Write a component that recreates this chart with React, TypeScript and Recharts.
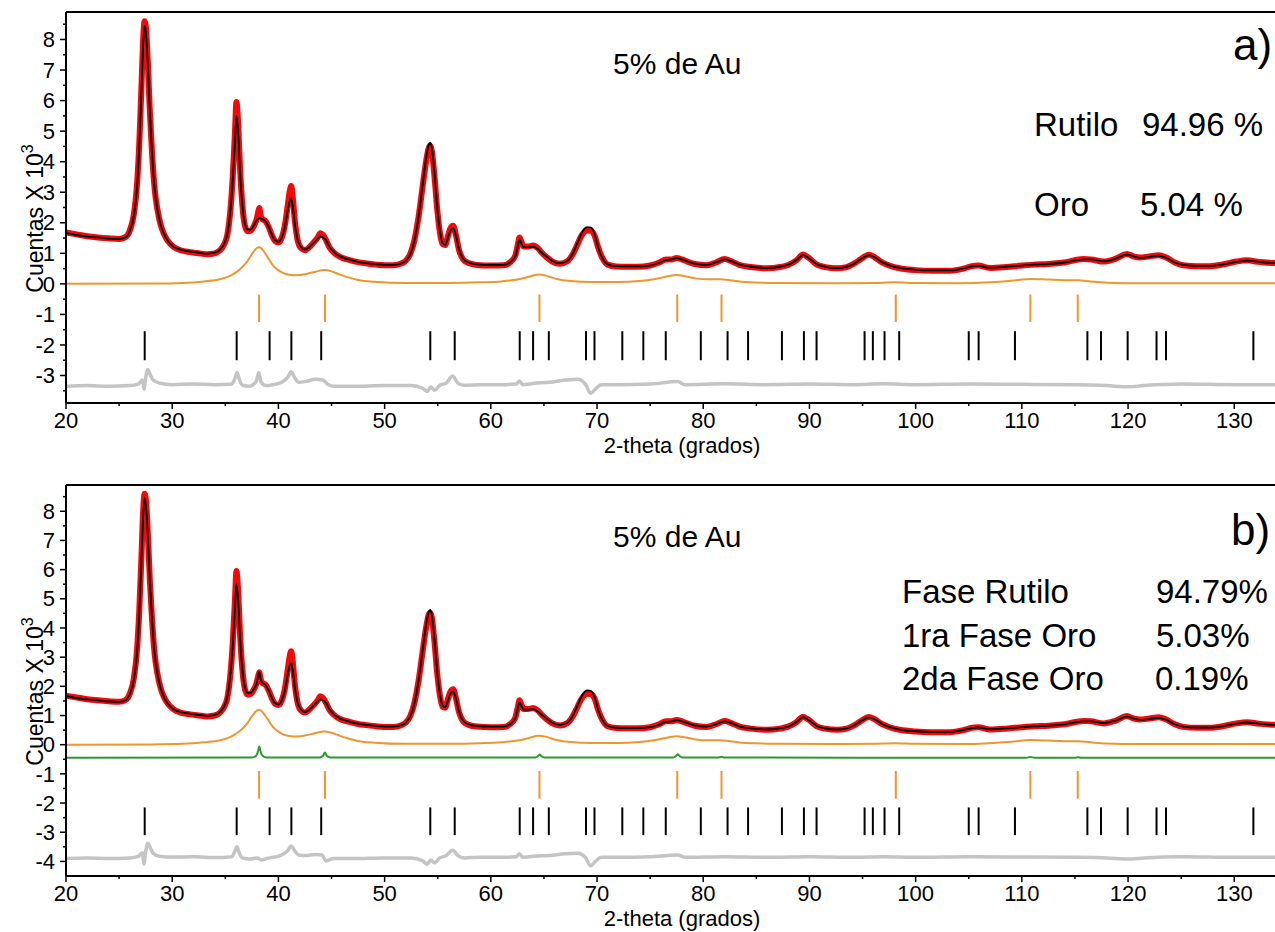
import { LineChart, Line, XAxis, YAxis, ReferenceLine } from "recharts"

type Pt = [number, number]

const FONT = '"Liberation Sans", Arial, Helvetica, sans-serif'

// axis ticks (majors get a label, halves / fives are minor marks)
const xTicks = [20, 25, 30, 35, 40, 45, 50, 55, 60, 65, 70, 75, 80, 85, 90, 95, 100, 105, 110, 115, 120, 125, 130, 135]
const yTicksA = [-3.5, -3, -2.5, -2, -1.5, -1, -0.5, 0, 0.5, 1, 1.5, 2, 2.5, 3, 3.5, 4, 4.5, 5, 5.5, 6, 6.5, 7, 7.5, 8, 8.5]
const yTicksB = [-4, -3.5, -3, -2.5, -2, -1.5, -1, -0.5, 0, 0.5, 1, 1.5, 2, 2.5, 3, 3.5, 4, 4.5, 5, 5.5, 6, 6.5, 7, 7.5, 8, 8.5]

// observed pattern (counts x 10^3), same sample in both panels
const observed: Pt[] = [
  [20, 1.68], [21, 1.62], [22, 1.56], [23, 1.52], [24, 1.49], [25, 1.47], [25.6, 1.53], [26.0, 1.74], [26.4, 2.3],
  [26.7, 3.3], [26.9, 4.6], [27.1, 6.4], [27.25, 7.9], [27.4, 8.6], [27.55, 8.3], [27.7, 7.3], [27.9, 5.6], [28.1, 4.3],
  [28.35, 3.1], [28.6, 2.45], [28.9, 1.95], [29.2, 1.65], [29.6, 1.4], [30.1, 1.22], [30.8, 1.1], [31.7, 1.04], [32.5, 1.0],
  [33.3, 0.97], [34.0, 1.0], [34.5, 1.1], [34.9, 1.3], [35.2, 1.62], [35.45, 2.3], [35.7, 3.5], [35.9, 4.9], [36.05, 5.95],
  [36.2, 5.3], [36.4, 3.7], [36.6, 2.6], [36.85, 1.9], [37.1, 1.72], [37.4, 1.74], [37.7, 1.9], [37.95, 2.12], [38.1, 2.35],
  [38.2, 2.48], [38.32, 2.25], [38.5, 2.12], [38.8, 2.05], [39.1, 1.85], [39.4, 1.58], [39.7, 1.4], [40.0, 1.36], [40.3, 1.5],
  [40.6, 1.9], [40.85, 2.5], [41.05, 3.0], [41.2, 3.2], [41.35, 2.85], [41.55, 2.05], [41.8, 1.45], [42.1, 1.18], [42.5, 1.1],
  [42.9, 1.2], [43.3, 1.35], [43.7, 1.52], [43.95, 1.66], [44.2, 1.6], [44.5, 1.42], [44.8, 1.2], [45.2, 1.03], [45.8, 0.88],
  [46.7, 0.78], [47.5, 0.71], [48.3, 0.67], [49.2, 0.63], [50.0, 0.61], [50.8, 0.61], [51.5, 0.66], [52.0, 0.76], [52.4, 0.97],
  [52.8, 1.42], [53.2, 2.2], [53.6, 3.25], [53.9, 4.0], [54.15, 4.45], [54.3, 4.52], [54.45, 4.35], [54.7, 3.5], [54.95, 2.45],
  [55.2, 1.7], [55.45, 1.3], [55.7, 1.27], [55.95, 1.55], [56.2, 1.82], [56.45, 1.9], [56.7, 1.62], [57.0, 1.12], [57.4, 0.8],
  [57.9, 0.68], [58.7, 0.62], [60.0, 0.6], [61.2, 0.61], [61.8, 0.7], [62.3, 0.92], [62.55, 1.3], [62.7, 1.52], [62.85, 1.4],
  [63.1, 1.22], [63.5, 1.22], [64.0, 1.26], [64.4, 1.18], [64.8, 1.02], [65.3, 0.86], [65.8, 0.73], [66.5, 0.66], [67.2, 0.74],
  [67.7, 0.96], [68.1, 1.25], [68.5, 1.55], [68.8, 1.7], [69.1, 1.75], [69.45, 1.74], [69.8, 1.55], [70.1, 1.2], [70.5, 0.85],
  [71.0, 0.63], [71.8, 0.57], [72.8, 0.56], [73.8, 0.56], [75.0, 0.6], [75.8, 0.69], [76.5, 0.8], [77.0, 0.8], [77.5, 0.85],
  [78.0, 0.8], [78.5, 0.73], [79.2, 0.65], [80.3, 0.61], [81.2, 0.7], [82.0, 0.81], [82.6, 0.75], [83.4, 0.62], [84.5, 0.55],
  [86.0, 0.51], [87.2, 0.55], [88.0, 0.62], [88.8, 0.78], [89.4, 0.96], [89.9, 0.86], [90.7, 0.63], [91.5, 0.55], [92.6, 0.51],
  [93.5, 0.55], [94.2, 0.66], [94.8, 0.8], [95.6, 0.95], [96.1, 0.88], [96.8, 0.71], [97.6, 0.59], [98.5, 0.51], [100.0, 0.45],
  [101.5, 0.43], [103.2, 0.43], [104.5, 0.5], [105.3, 0.58], [105.9, 0.6], [107.0, 0.52], [108.5, 0.55], [110.0, 0.6],
  [111.1, 0.63], [112.5, 0.65], [114.0, 0.7], [115.8, 0.81], [116.5, 0.8], [117.7, 0.73], [118.8, 0.82], [119.9, 0.98],
  [120.5, 0.9], [121.1, 0.86], [122.0, 0.9], [122.9, 0.94], [123.6, 0.86], [124.4, 0.7], [125.2, 0.61], [126.5, 0.58],
  [127.7, 0.58], [129.0, 0.64], [130.2, 0.73], [131.2, 0.77], [132.3, 0.72], [133.8, 0.68], [135, 0.7], [136, 0.72],
]

// calculated pattern, panel a)
const calcA: Pt[] = [
  [20, 1.66], [21, 1.6], [22, 1.55], [23, 1.52], [24, 1.48], [25, 1.47], [25.6, 1.52], [26.0, 1.72], [26.4, 2.25],
  [26.7, 3.2], [26.9, 4.5], [27.1, 6.3], [27.25, 7.7], [27.4, 8.45], [27.55, 8.1], [27.7, 7.2], [27.9, 5.6], [28.1, 4.3],
  [28.35, 3.1], [28.6, 2.45], [28.9, 1.95], [29.2, 1.65], [29.6, 1.4], [30.1, 1.22], [30.8, 1.12], [31.7, 1.06], [32.5, 1.02],
  [33.3, 0.99], [34.0, 1.02], [34.5, 1.12], [34.9, 1.32], [35.2, 1.65], [35.45, 2.3], [35.7, 3.4], [35.9, 4.6], [36.05, 5.5],
  [36.2, 5.0], [36.4, 3.6], [36.6, 2.6], [36.85, 1.95], [37.1, 1.78], [37.4, 1.78], [37.7, 1.92], [37.95, 2.08], [38.2, 2.15],
  [38.5, 2.12], [38.8, 2.05], [39.1, 1.85], [39.4, 1.6], [39.7, 1.42], [40.0, 1.38], [40.3, 1.5], [40.6, 1.85], [40.85, 2.35],
  [41.05, 2.7], [41.2, 2.8], [41.35, 2.55], [41.55, 1.95], [41.8, 1.45], [42.1, 1.22], [42.5, 1.12], [42.9, 1.2], [43.3, 1.33],
  [43.7, 1.48], [43.95, 1.55], [44.2, 1.52], [44.5, 1.42], [44.8, 1.22], [45.2, 1.05], [45.8, 0.9], [46.7, 0.79], [47.5, 0.72],
  [48.3, 0.68], [49.2, 0.64], [50.0, 0.62], [50.8, 0.62], [51.5, 0.66], [52.0, 0.75], [52.4, 0.95], [52.8, 1.4], [53.2, 2.2],
  [53.6, 3.3], [53.9, 4.1], [54.15, 4.55], [54.3, 4.62], [54.45, 4.45], [54.7, 3.6], [54.95, 2.5], [55.2, 1.75], [55.45, 1.35],
  [55.7, 1.28], [55.95, 1.5], [56.2, 1.75], [56.45, 1.82], [56.7, 1.6], [57.0, 1.15], [57.4, 0.82], [57.9, 0.7], [58.7, 0.64],
  [60.0, 0.62], [61.2, 0.62], [61.8, 0.7], [62.3, 0.9], [62.55, 1.25], [62.7, 1.45], [62.85, 1.35], [63.1, 1.2], [63.5, 1.2],
  [64.0, 1.22], [64.4, 1.15], [64.8, 1.02], [65.3, 0.88], [65.8, 0.75], [66.5, 0.68], [67.2, 0.75], [67.7, 0.98], [68.1, 1.3],
  [68.5, 1.62], [68.8, 1.8], [69.1, 1.86], [69.45, 1.84], [69.8, 1.6], [70.1, 1.2], [70.5, 0.85], [71.0, 0.64], [71.8, 0.58],
  [72.8, 0.57], [73.8, 0.57], [75.0, 0.6], [75.8, 0.68], [76.5, 0.78], [77.0, 0.8], [77.5, 0.84], [78.0, 0.8], [78.5, 0.74],
  [79.2, 0.66], [80.3, 0.62], [81.2, 0.7], [82.0, 0.8], [82.6, 0.75], [83.4, 0.63], [84.5, 0.56], [86.0, 0.52], [87.2, 0.56],
  [88.0, 0.62], [88.8, 0.78], [89.4, 0.94], [89.9, 0.85], [90.7, 0.64], [91.5, 0.56], [92.6, 0.52], [93.5, 0.56], [94.2, 0.66],
  [94.8, 0.8], [95.6, 0.93], [96.1, 0.88], [96.8, 0.72], [97.6, 0.6], [98.5, 0.52], [100.0, 0.46], [101.5, 0.44], [103.2, 0.44],
  [104.5, 0.5], [105.3, 0.57], [105.9, 0.59], [107.0, 0.53], [108.5, 0.56], [110.0, 0.6], [111.1, 0.63], [112.5, 0.65],
  [114.0, 0.7], [115.8, 0.8], [116.5, 0.8], [117.7, 0.74], [118.8, 0.82], [119.9, 0.96], [120.5, 0.9], [121.1, 0.85],
  [122.0, 0.88], [122.9, 0.92], [123.6, 0.85], [124.4, 0.7], [125.2, 0.62], [126.5, 0.59], [127.7, 0.59], [129.0, 0.64],
  [130.2, 0.72], [131.2, 0.76], [132.3, 0.72], [133.8, 0.68], [135, 0.7], [136, 0.72],
]

// panel b) fit differs only around the (111) gold reflection
const calcBGoldZone: Pt[] = [
  [37.7, 1.92], [37.95, 2.1], [38.1, 2.35], [38.2, 2.5], [38.32, 2.25], [38.5, 2.12], [38.8, 2.05],
]
const calcB: Pt[] = [...calcA.filter(([x]) => x < 37.6 || x > 38.9), ...calcBGoldZone].sort((a, b) => a[0] - b[0])

// first gold phase contribution (orange)
const goldPhase: Pt[] = [
  [20, 0], [28, 0.01], [31, 0.03], [33, 0.08], [34.5, 0.15], [35.5, 0.27], [36.3, 0.45], [37.0, 0.7], [37.6, 1.02],
  [38.0, 1.18], [38.2, 1.2], [38.5, 1.12], [38.9, 0.92], [39.5, 0.6], [40.2, 0.4], [41.0, 0.3], [41.8, 0.28], [42.6, 0.32],
  [43.5, 0.4], [44.3, 0.45], [44.9, 0.42], [45.6, 0.33], [46.5, 0.22], [47.5, 0.13], [49, 0.07], [52, 0.03], [56, 0.03],
  [59, 0.05], [61, 0.08], [62.5, 0.14], [63.6, 0.23], [64.5, 0.31], [65.2, 0.27], [66.2, 0.16], [67.5, 0.09], [69.5, 0.06],
  [72, 0.06], [74, 0.09], [75.5, 0.16], [76.7, 0.25], [77.5, 0.29], [78.3, 0.25], [79.3, 0.18], [80.5, 0.15], [81.6, 0.15],
  [82.5, 0.12], [84, 0.06], [87, 0.03], [92, 0.02], [96, 0.03], [98, 0.05], [100, 0.03], [104, 0.02], [107, 0.05], [109, 0.1],
  [110.8, 0.16], [112.5, 0.14], [114, 0.12], [115.3, 0.12], [116.5, 0.08], [118, 0.04], [121, 0.02], [136, 0.02],
]

// second gold phase (green, panel b only)
const goldPhase2: Pt[] = [
  [20, -0.45], [37.5, -0.44], [37.9, -0.38], [38.1, -0.2], [38.2, -0.06], [38.3, -0.2], [38.5, -0.38], [38.9, -0.44],
  [43.9, -0.44], [44.2, -0.38], [44.38, -0.27], [44.55, -0.38], [44.9, -0.44], [64.2, -0.44], [64.45, -0.39], [64.6, -0.34],
  [64.75, -0.39], [65.0, -0.44], [77.2, -0.44], [77.45, -0.38], [77.6, -0.33], [77.75, -0.38], [78.0, -0.44], [81.4, -0.44],
  [81.7, -0.41], [82.0, -0.44], [110.4, -0.45], [110.8, -0.42], [111.2, -0.45], [115.0, -0.45], [115.3, -0.43],
  [115.6, -0.45], [136, -0.45],
]

// difference curves (grey)
const diffA: Pt[] = [
  [20, -3.35], [22, -3.33], [24, -3.35], [26, -3.33], [26.8, -3.28], [27.2, -3.15], [27.35, -3.45], [27.45, -3.2],
  [27.7, -2.8], [27.9, -2.95], [28.2, -3.15], [28.8, -3.25], [30, -3.3], [32, -3.28], [34, -3.3], [35.6, -3.28], [35.9, -3.1],
  [36.1, -2.9], [36.3, -3.1], [36.6, -3.32], [37.3, -3.35], [37.9, -3.2], [38.15, -2.9], [38.35, -3.2], [38.8, -3.33],
  [39.5, -3.3], [40.3, -3.22], [40.9, -3.05], [41.2, -2.88], [41.5, -3.05], [41.9, -3.22], [42.5, -3.2], [43.5, -3.12],
  [44.2, -3.15], [44.6, -3.28], [45.2, -3.35], [47, -3.35], [50, -3.33], [52.5, -3.33], [53.6, -3.42], [54.0, -3.52],
  [54.35, -3.38], [54.7, -3.48], [55.2, -3.32], [55.8, -3.25], [56.4, -3.02], [56.9, -3.25], [57.5, -3.32], [59, -3.3],
  [61, -3.3], [62.4, -3.28], [62.7, -3.18], [63.0, -3.3], [64, -3.26], [65.5, -3.22], [67, -3.15], [68.2, -3.12],
  [68.9, -3.28], [69.4, -3.58], [69.9, -3.42], [70.4, -3.3], [72, -3.3], [75, -3.28], [77.6, -3.2], [78.3, -3.3], [82, -3.27],
  [86, -3.3], [90, -3.28], [94, -3.3], [97, -3.27], [100, -3.3], [105, -3.28], [110, -3.29], [115, -3.3], [118, -3.33],
  [120, -3.37], [121.5, -3.33], [125, -3.28], [130, -3.3], [136, -3.3],
]
const diffB: Pt[] = [
  [20, -3.9], [22, -3.88], [24, -3.9], [26, -3.88], [26.8, -3.83], [27.2, -3.7], [27.35, -4.1], [27.45, -3.8], [27.7, -3.38],
  [27.9, -3.5], [28.2, -3.72], [28.8, -3.82], [30, -3.85], [32, -3.84], [34, -3.87], [35.6, -3.84], [35.9, -3.65],
  [36.1, -3.5], [36.3, -3.7], [36.6, -3.88], [37.3, -3.92], [38.0, -3.88], [38.4, -3.95], [38.9, -3.9], [39.5, -3.86],
  [40.3, -3.78], [40.9, -3.62], [41.2, -3.47], [41.5, -3.62], [41.9, -3.78], [42.5, -3.8], [43.5, -3.76], [44.1, -3.78],
  [44.5, -3.98], [45.2, -3.9], [47, -3.9], [50, -3.88], [52.5, -3.88], [53.6, -3.98], [54.0, -4.1], [54.35, -3.95],
  [54.7, -4.05], [55.2, -3.88], [55.8, -3.8], [56.4, -3.62], [56.9, -3.8], [57.5, -3.88], [59, -3.86], [61, -3.86],
  [62.4, -3.84], [62.7, -3.74], [63.0, -3.86], [64, -3.82], [65.5, -3.8], [67, -3.74], [68.2, -3.72], [68.9, -3.86],
  [69.4, -4.15], [69.9, -3.98], [70.4, -3.86], [72, -3.86], [75, -3.84], [77.6, -3.78], [78.3, -3.86], [82, -3.84],
  [86, -3.86], [90, -3.84], [94, -3.86], [97, -3.84], [100, -3.86], [105, -3.84], [110, -3.85], [115, -3.86], [118, -3.88],
  [120, -3.92], [121.5, -3.88], [125, -3.84], [130, -3.86], [136, -3.86],
]

// Bragg reflection positions (2-theta)
const goldRefl = [38.18, 44.39, 64.58, 77.55, 81.72, 98.13, 110.8, 115.26]
const rutileRefl = [
  27.41, 36.07, 39.17, 41.22, 44.03, 54.3, 56.6, 62.72, 63.98, 65.46, 68.96, 69.76, 72.38, 74.36, 76.47, 79.77, 82.29,
  84.22, 87.41, 89.48, 90.67, 95.19, 95.97, 97.07, 98.45, 105.0, 105.93, 109.35, 116.17, 117.45, 119.96, 122.68, 123.57, 131.8,
]

const toPts = (arr: Pt[]) => arr.map(([x, y]) => ({ x, y }))

function XTick(props: any) {
  const { x, y, payload } = props
  const major = payload.value % 10 === 0
  return (
    <g>
      <line x1={x} x2={x} y1={y} y2={y + (major ? 6 : 3)} stroke="#000" strokeWidth={1.5} />
      {major && (
        <text x={x} y={y + 25} textAnchor="middle" fontSize={22} fontFamily={FONT} fill="#000">
          {payload.value}
        </text>
      )}
    </g>
  )
}

function YTick(props: any) {
  const { x, y, payload } = props
  const major = Number.isInteger(payload.value)
  return (
    <g>
      <line x1={x} x2={x - (major ? 6 : 3)} y1={y} y2={y} stroke="#000" strokeWidth={1.5} />
      {major && (
        <text x={x - 11} y={y} dy="0.35em" textAnchor="end" fontSize={22} fontFamily={FONT} fill="#000">
          {payload.value}
        </text>
      )}
    </g>
  )
}

const yTitle = (props: any) => {
  const vb = props.viewBox
  const cx = vb.x + 43
  const cy = vb.y + vb.height / 2 + 11
  return (
    <text x={cx} y={cy} transform={`rotate(-90 ${cx} ${cy})`} textAnchor="middle" fontSize={23} fontFamily={FONT} fill="#000">
      Cuentas X 10<tspan dy={-10} fontSize={16}>3</tspan>
    </text>
  )
}

const xTitle = (props: any) => {
  const vb = props.viewBox
  return (
    <text x={vb.x + vb.width / 2} y={vb.y + 50} textAnchor="middle" fontSize={22} fontFamily={FONT} fill="#000">
      2-theta (grados)
    </text>
  )
}

interface PanelProps {
  height: number
  marginTop: number
  yDomain: [number, number]
  yTicks: number[]
  calc: Pt[]
  diff: Pt[]
  second?: Pt[]
  goldBar: [number, number]
  rutileBar: [number, number]
  children?: any
}

function Panel({ height, marginTop, yDomain, yTicks, calc, diff, second, goldBar, rutileBar, children }: PanelProps) {
  const xAxisHeight = height - marginTop - 391
  return (
    <LineChart width={1310} height={height} margin={{ top: marginTop, right: 12, bottom: 0, left: 0 }}>
      <XAxis
        type="number"
        dataKey="x"
        domain={[20, 136]}
        allowDataOverflow
        ticks={xTicks}
        interval={0}
        tick={<XTick />}
        tickLine={false}
        tickSize={0}
        tickMargin={0}
        axisLine={{ stroke: "#000", strokeWidth: 2 }}
        height={xAxisHeight}
        label={{ content: xTitle }}
      />
      <YAxis
        type="number"
        domain={yDomain}
        allowDataOverflow
        ticks={yTicks}
        interval={0}
        tick={<YTick />}
        tickLine={false}
        tickSize={0}
        tickMargin={0}
        axisLine={{ stroke: "#000", strokeWidth: 2 }}
        width={66}
        label={{ content: yTitle }}
      />
      <ReferenceLine y={yDomain[1]} stroke="#000" strokeWidth={2} />
      <Line data={toPts(observed)} dataKey="y" type="monotone" stroke="#f20a0a" strokeWidth={6} dot={false} isAnimationActive={false} />
      <Line data={toPts(calc)} dataKey="y" type="monotone" stroke="#000" strokeWidth={1.8} dot={false} isAnimationActive={false} />
      <Line data={toPts(goldPhase)} dataKey="y" type="monotone" stroke="#f0962f" strokeWidth={2} dot={false} isAnimationActive={false} />
      {second && (
        <Line data={toPts(second)} dataKey="y" type="monotone" stroke="#2a9a2a" strokeWidth={2} dot={false} isAnimationActive={false} />
      )}
      <Line data={toPts(diff)} dataKey="y" type="monotone" stroke="#c4c4c4" strokeWidth={3.5} dot={false} isAnimationActive={false} />
      {goldRefl.map((t) => (
        <ReferenceLine key={`g${t}`} segment={[{ x: t, y: goldBar[0] }, { x: t, y: goldBar[1] }]} stroke="#f0962f" strokeWidth={2} />
      ))}
      {rutileRefl.map((t) => (
        <ReferenceLine key={`r${t}`} segment={[{ x: t, y: rutileBar[0] }, { x: t, y: rutileBar[1] }]} stroke="#000" strokeWidth={2} />
      ))}
      {children}
    </LineChart>
  )
}

const txt = { fontFamily: FONT, fill: "#000" }

export default function App() {
  return (
    <div style={{ position: "absolute", left: 0, top: 0, width: 1275, height: 932, overflow: "hidden", background: "#fff", fontFamily: FONT }}>
      <div style={{ position: "absolute", left: 0, top: 0 }}>
        <Panel
          height={470}
          marginTop={12}
          yDomain={[-3.9, 8.9]}
          yTicks={yTicksA}
          calc={calcA}
          diff={diffA}
          goldBar={[-0.35, -1.25]}
          rutileBar={[-1.55, -2.5]}
        >
          <text x={613} y={74} fontSize={30} {...txt}>5% de Au</text>
          <text x={1233} y={60} fontSize={44} {...txt}>a)</text>
          <text x={1034} y={136} fontSize={33} {...txt}>Rutilo</text>
          <text x={1142} y={136} fontSize={33} {...txt}>94.96 %</text>
          <text x={1034} y={216} fontSize={33} {...txt}>Oro</text>
          <text x={1140} y={216} fontSize={33} {...txt}>5.04 %</text>
        </Panel>
      </div>
      <div style={{ position: "absolute", left: 0, top: 470 }}>
        <Panel
          height={462}
          marginTop={15}
          yDomain={[-4.5, 8.9]}
          yTicks={yTicksB}
          calc={calcB}
          diff={diffB}
          second={goldPhase2}
          goldBar={[-0.9, -1.85]}
          rutileBar={[-2.15, -3.1]}
        >
          <text x={613} y={77} fontSize={30} {...txt}>5% de Au</text>
          <text x={1231} y={75} fontSize={44} {...txt}>b)</text>
          <text x={902} y={133} fontSize={33} {...txt}>Fase Rutilo</text>
          <text x={1156} y={133} fontSize={33} {...txt}>94.79%</text>
          <text x={902} y={177} fontSize={33} {...txt}>1ra Fase Oro</text>
          <text x={1156} y={177} fontSize={33} {...txt}>5.03%</text>
          <text x={902} y={220} fontSize={33} {...txt}>2da Fase Oro</text>
          <text x={1155} y={220} fontSize={33} {...txt}>0.19%</text>
        </Panel>
      </div>
    </div>
  )
}
